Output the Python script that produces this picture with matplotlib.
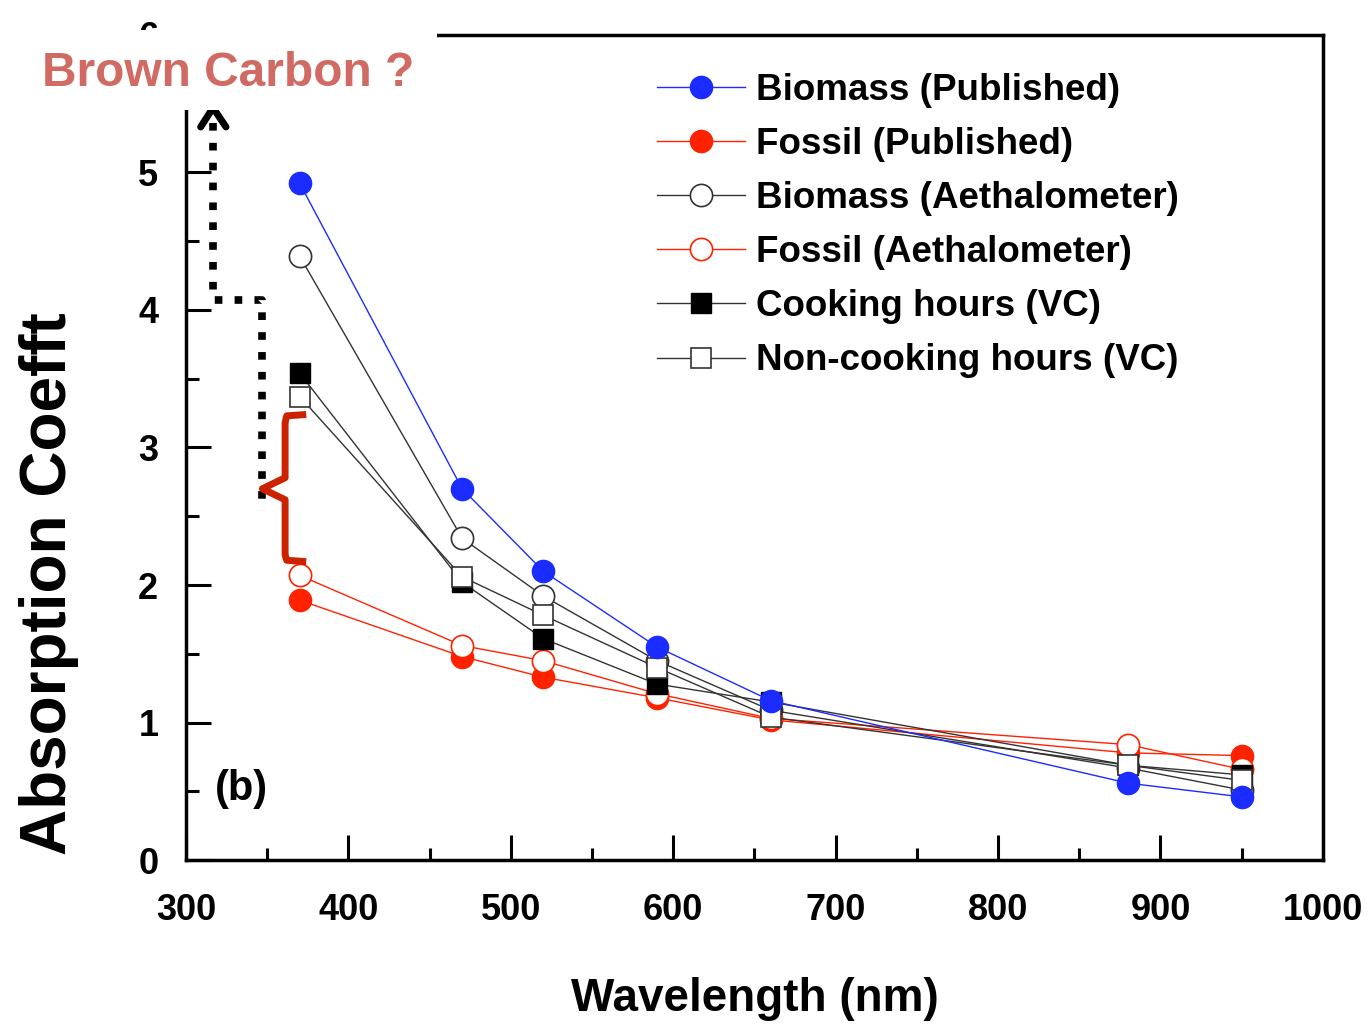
import numpy as np
import matplotlib.pyplot as plt
from matplotlib.patches import Rectangle
from matplotlib.ticker import MultipleLocator

# data
wavelength = [370, 470, 520, 590, 660, 880, 950]
biomass_pub = [4.92, 2.70, 2.10, 1.55, 1.16, 0.56, 0.46]
fossil_pub = [1.89, 1.48, 1.33, 1.18, 1.02, 0.78, 0.76]
biomass_ae = [4.39, 2.34, 1.92, 1.45, 1.09, 0.67, 0.51]
fossil_ae = [2.07, 1.56, 1.45, 1.21, 1.03, 0.84, 0.66]
cooking = [3.54, 2.02, 1.61, 1.28, 1.15, 0.69, 0.62]
noncooking = [3.37, 2.06, 1.78, 1.40, 1.04, 0.69, 0.58]

xticks = [300, 400, 500, 600, 700, 800, 900, 1000]
yticks = [0, 1, 2, 3, 4, 5, 6]

plt.rcParams['font.family'] = ['Liberation Sans', 'DejaVu Sans']
plt.rcParams['font.weight'] = 'bold'
plt.rcParams['axes.labelweight'] = 'bold'

fig = plt.figure(figsize=(13.68, 10.24), dpi=100)
ax = fig.add_axes([0.136, 0.160, 0.831, 0.806])

blue = '#1a2cff'
red = '#ff2200'
ms = 16

ax.plot(wavelength, fossil_ae, color=red, lw=1, marker='o', ms=ms,
        mfc='white', mec=red, mew=1.2, label='Fossil (Aethalometer)', zorder=3)
ax.plot(wavelength, fossil_pub, color=red, lw=1, marker='o', ms=ms,
        mfc=red, mec=red, label='Fossil (Published)', zorder=2)
ax.plot(wavelength, biomass_ae, color='#333333', lw=1, marker='o', ms=ms,
        mfc='white', mec='#333333', mew=1.2, label='Biomass (Aethalometer)', zorder=3)
ax.plot(wavelength, cooking, color='#333333', lw=1, marker='s', ms=14,
        mfc='black', mec='black', label='Cooking hours (VC)', zorder=4)
ax.plot(wavelength, noncooking, color='#333333', lw=1, marker='s', ms=14,
        mfc='white', mec='#333333', mew=1.2, label='Non-cooking hours (VC)', zorder=4)
ax.plot(wavelength, biomass_pub, color=blue, lw=1, marker='o', ms=ms,
        mfc=blue, mec=blue, label='Biomass (Published)', zorder=5)

ax.set_xlim(300, 1000)
ax.set_ylim(0, 6)
ax.set_xticks(xticks)
ax.set_yticks(yticks)
ax.xaxis.set_minor_locator(MultipleLocator(50))
ax.yaxis.set_minor_locator(MultipleLocator(0.5))
ax.tick_params(which='major', direction='in', length=18, width=2.2,
               labelsize=26, pad=24, top=False, right=False)
ax.tick_params(which='minor', direction='in', length=9, width=2.2,
               top=False, right=False)
ax.tick_params(axis='y', pad=20)
for s in ax.spines.values():
    s.set_linewidth(2.5)

ax.set_xlabel('Wavelength (nm)', fontsize=33, labelpad=35)
fig.text(0.036, 1 - 855 / 1024, 'Absorption Coefft', rotation=90,
         ha='center', va='bottom', fontsize=46, fontweight='bold')

ax.text(318, 0.52, '(b)', fontsize=30, ha='left', va='center')

# legend in the order shown on the figure
h, l = ax.get_legend_handles_labels()
order = ['Biomass (Published)', 'Fossil (Published)', 'Biomass (Aethalometer)',
         'Fossil (Aethalometer)', 'Cooking hours (VC)', 'Non-cooking hours (VC)']
hs = [h[l.index(o)] for o in order]
ax.legend(hs, order, loc='upper left', bbox_to_anchor=(0.480, 0.929),
          bbox_transform=fig.transFigure, frameon=False, fontsize=26.5,
          handlelength=2.4, handletextpad=0.3, labelspacing=0.52,
          borderpad=0, borderaxespad=0)

# dotted arrow path
ax.plot([316.6, 316.6, 346.8, 346.8], [5.36, 4.07, 4.07, 2.54], color='black',
        lw=5.5, dashes=(1, 1.6), dash_capstyle='butt', clip_on=False, zorder=6)
ax.plot([309, 316.6, 324.6], [5.33, 5.47, 5.33], color='black', lw=5,
        solid_capstyle='round', solid_joinstyle='round', clip_on=False, zorder=6)

# red brace
bx = [374, 362, 361, 361, 347, 361, 361, 362, 374]
by = [3.24, 3.23, 3.18, 2.78, 2.70, 2.62, 2.22, 2.18, 2.17]
ax.plot(bx, by, color='#cc2200', lw=5, solid_joinstyle='round',
        solid_capstyle='butt', clip_on=False, zorder=6)

# white box with "Brown Carbon ?"
fig.add_artist(Rectangle((20 / 1368, 1 - 110 / 1024), 417 / 1368, 80 / 1024,
                         transform=fig.transFigure, facecolor='white',
                         edgecolor='none', zorder=10))
fig.text(42 / 1368, 1 - 74 / 1024, 'Brown Carbon ?', color='#d06a62',
         fontsize=34.5, fontweight='bold', ha='left', va='center', zorder=11)

fig.savefig('out.png', dpi=100)
